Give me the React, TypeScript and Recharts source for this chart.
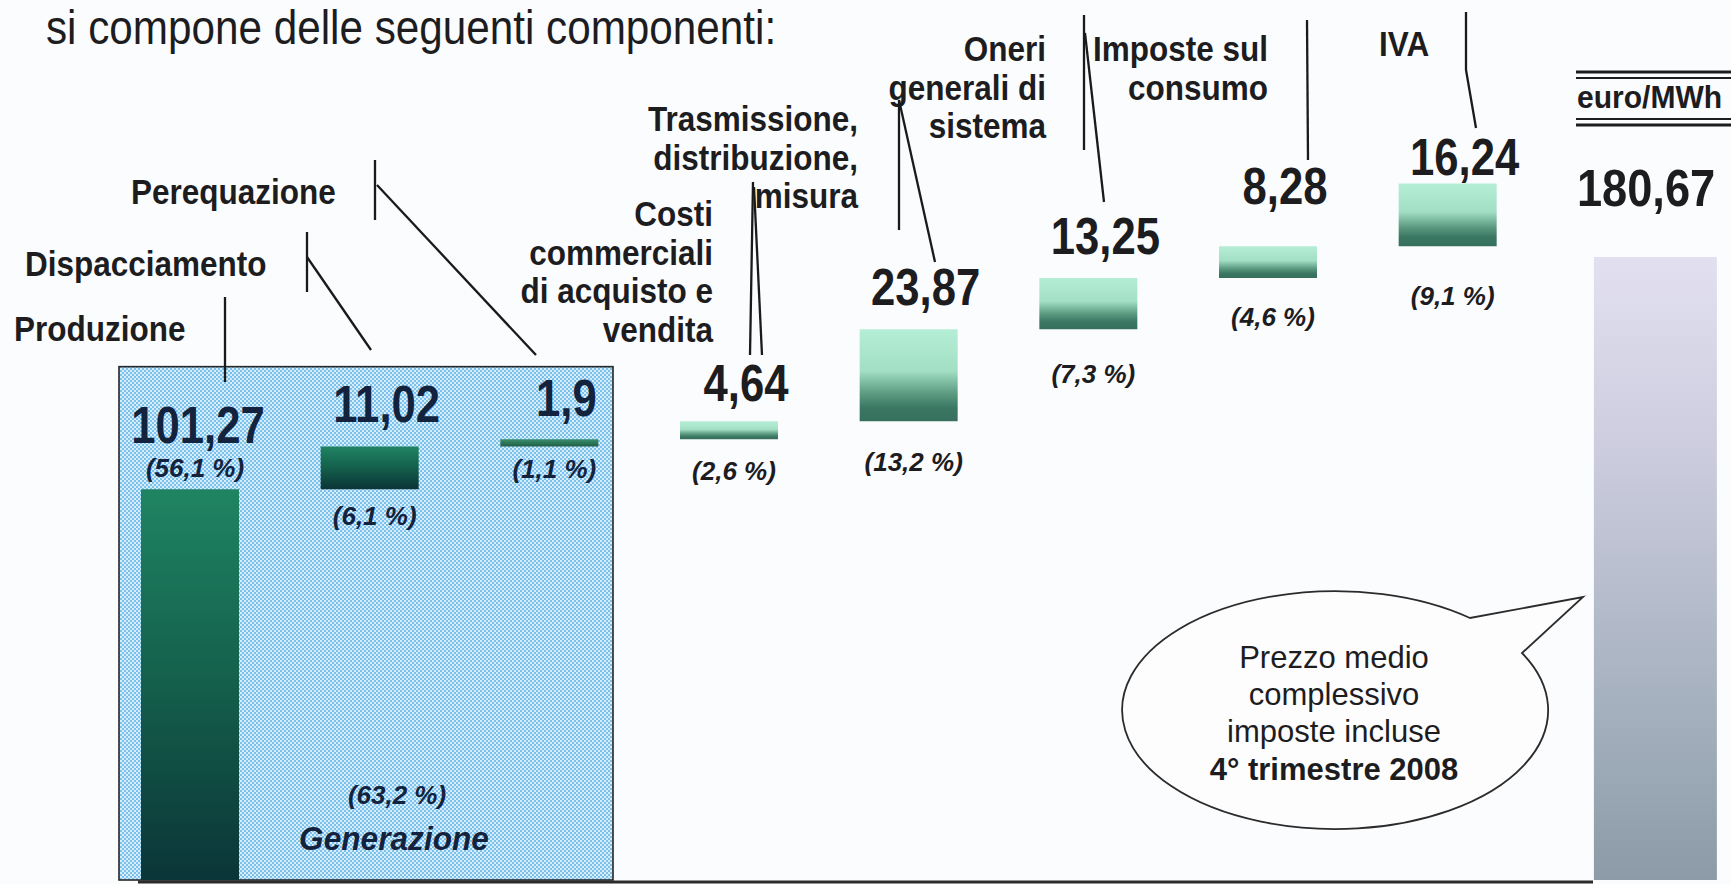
import React from "react";
import { BarChart, Bar, XAxis, YAxis, Cell, LabelList, ReferenceArea, ReferenceLine } from "recharts";

// componenti del prezzo, euro/MWh (4° trimestre 2008)
const CATEGORIES = [
    "Produzione",
    "Dispacciamento",
    "Perequazione",
    "Costi commerciali di acquisto e vendita",
    "Trasmissione, distribuzione, misura",
    "Oneri generali di sistema",
    "Imposte sul consumo",
    "IVA",
    "Totale",
];
const VALUES = [101.27, 11.02, 1.9, 4.64, 23.87, 13.25, 8.28, 16.24];
const SHARES = [56.1, 6.1, 1.1, 2.6, 13.2, 7.3, 4.6, 9.1];
const TOTAL = 180.67;
const GENERATION_SHARE = 63.2;
const UNIT = "euro/MWh";
const TITLE = "si compone delle seguenti componenti:";
const NOTE = ["Prezzo medio", "complessivo", "imposte incluse"];
const NOTE_BOLD = "4° trimestre 2008";

const INK = "#1d1d1f";
const NAVY = "#14233d";
const FONT = "'Liberation Sans', Arial, Helvetica, sans-serif";

// distanza delle etichette dalla barra (la slide non le allinea tutte uguali)
const VALUE_LIFT = [46, 25, 23, 20, 24, 24, 42, 8];
const SHARE_GAP = [-12, 36, 31, 41, 50, 54, 48, 59];

let running = 0;
const data = CATEGORIES.map((name, i) => {
    if (i < VALUES.length) {
        const row = { name, base: running, value: VALUES[i] };
        running += VALUES[i];
        return row;
    }
    return { name, total: TOTAL };
});

const fmt = (v: number) => String(v).replace(".", ",");

function Txt({ x, y, size, sx = 1, bold = false, italic = false, anchor = "start", fill = INK, children }: any) {
    return (
        <text
            transform={`translate(${x} ${y}) scale(${sx} 1)`}
            fontFamily={FONT}
            fontSize={size}
            fontWeight={bold ? 700 : 400}
            fontStyle={italic ? "italic" : "normal"}
            textAnchor={anchor}
            fill={fill}
        >
            {children}
        </text>
    );
}

// etichette delle voci (a capo come nella slide) e linee di richiamo
const LABELS = [
    { lines: ["Produzione"], x: 14, y: 341, anchor: "start" },
    { lines: ["Dispacciamento"], x: 25, y: 276, anchor: "start" },
    { lines: ["Perequazione"], x: 131, y: 204, anchor: "start" },
    { lines: ["Costi", "commerciali", "di acquisto e", "vendita"], x: 713, y: 226, anchor: "end" },
    { lines: ["Trasmissione,", "distribuzione,", "misura"], x: 858, y: 131, anchor: "end" },
    { lines: ["Oneri", "generali di", "sistema"], x: 1046, y: 61, anchor: "end" },
    { lines: ["Imposte sul", "consumo"], x: 1268, y: 61, anchor: "end" },
    { lines: ["IVA"], x: 1379, y: 56, anchor: "start" },
];
const LEADERS = [
    [[225, 297], [225, 382]],
    [[307, 232], [307, 292]],
    [[307, 257], [371, 350]],
    [[375, 160], [375, 220]],
    [[377, 185], [536, 355]],
    [[753, 182], [750, 355]],
    [[754, 187], [762, 355]],
    [[899, 100], [899, 230]],
    [[899, 100], [935, 262]],
    [[1084, 15], [1084, 150]],
    [[1085, 33], [1104, 202]],
    [[1307, 20], [1308, 160]],
    [[1466, 12], [1466, 70], [1476, 128]],
];

const renderStepLabels = (p: any) => {
    const i = p.index;
    if (i == null || i >= VALUES.length) return null;
    const vb = p.viewBox ?? p;
    const top = Math.min(vb.y, vb.y + vb.height);
    const bottom = Math.max(vb.y, vb.y + vb.height);
    const cx = vb.x + vb.width / 2;
    const inBox = i < 3;
    const fromGround = i === 0;
    const color = inBox ? NAVY : INK;
    return (
        <g key={`l${i}`}>
            <Txt x={cx + (fromGround ? 8 : 17)} y={top - VALUE_LIFT[i]} size={52} sx={0.84} bold anchor="middle" fill={color}>
                {fmt(VALUES[i])}
            </Txt>
            <Txt x={cx + 5} y={fromGround ? top + SHARE_GAP[i] : bottom + SHARE_GAP[i]} size={26} bold italic anchor="middle" fill={color}>
                {`(${fmt(SHARES[i])} %)`}
            </Txt>
        </g>
    );
};

const renderTotalLabel = (p: any) => {
    if (p.value == null) return null;
    const vb = p.viewBox ?? p;
    if (!vb || vb.x == null) return null;
    const top = Math.min(vb.y, vb.y + vb.height);
    return (
        <Txt key="tot" x={vb.x - 17} y={top - 51} size={52} sx={0.87} bold>
            {fmt(TOTAL)}
        </Txt>
    );
};

const GenerationBox = (p: any) => {
    const x = p.x + 19;
    const w = p.width - 45;
    const bottom = p.y + p.height;
    return (
        <g>
            <rect x={x} y={p.y} width={w} height={p.height} fill="url(#boxDots)" stroke="#262626" strokeWidth={1.6} />
            <Txt x={x + 278} y={bottom - 76} size={26} bold italic anchor="middle" fill={NAVY}>
                {`(${fmt(GENERATION_SHARE)} %)`}
            </Txt>
            <Txt x={x + 275} y={bottom - 30} size={34} sx={0.93} bold italic anchor="middle" fill={NAVY}>
                Generazione
            </Txt>
        </g>
    );
};

export default function App() {
    return (
        <div style={{ position: "relative", width: 1731, height: 884, overflow: "hidden", background: "#fbfcfe" }}>
            <style>{"body{margin:0}"}</style>
            <BarChart width={1731} height={884} data={data} margin={{ top: 0, right: 14, left: 100, bottom: 4 }}>
                <defs>
                    <pattern id="boxDots" width="4" height="4" patternUnits="userSpaceOnUse">
                        <rect width="4" height="4" fill="#7cc1ec" />
                        <rect width="2" height="2" fill="#d6edfb" />
                        <rect x="2" y="2" width="2" height="2" fill="#d6edfb" />
                    </pattern>
                    <linearGradient id="gDeep" x1="0" y1="0" x2="0" y2="1">
                        <stop offset="0" stopColor="#1f8462" />
                        <stop offset="0.5" stopColor="#145f4b" />
                        <stop offset="1" stopColor="#0b3538" />
                    </linearGradient>
                    <linearGradient id="gThin" x1="0" y1="0" x2="0" y2="1">
                        <stop offset="0" stopColor="#3b8d6a" />
                        <stop offset="1" stopColor="#1f5e48" />
                    </linearGradient>
                    <linearGradient id="gMint" x1="0" y1="0" x2="0" y2="1">
                        <stop offset="0" stopColor="#b5eed6" />
                        <stop offset="0.45" stopColor="#a2dfc5" />
                        <stop offset="0.7" stopColor="#5c9a81" />
                        <stop offset="0.86" stopColor="#3a7662" />
                        <stop offset="1" stopColor="#36705c" />
                    </linearGradient>
                    <linearGradient id="gSteel" x1="0" y1="0" x2="0" y2="1">
                        <stop offset="0" stopColor="#e2e0f0" />
                        <stop offset="0.3" stopColor="#cdcddf" />
                        <stop offset="0.7" stopColor="#a7b2c0" />
                        <stop offset="1" stopColor="#8c9ba7" />
                    </linearGradient>
                </defs>
                <XAxis dataKey="name" hide />
                <XAxis xAxisId="tot" dataKey="name" hide padding={{ left: 500, right: 0 }} />
                <YAxis hide domain={[0, 228]} allowDataOverflow />
                <YAxis yAxisId="tot" hide domain={[0, 255.2]} allowDataOverflow />
                <ReferenceArea x1="Produzione" x2="Perequazione" y1={0} y2={133} shape={GenerationBox} />
                <ReferenceLine
                    y={0}
                    shape={(p: any) => <line x1={p.x1 + 38} y1={p.y1 + 2} x2={p.x2 - 124} y2={p.y2 + 2} stroke="#2b2b2b" strokeWidth={3} />}
                />
                <Bar dataKey="base" stackId="w" fill="transparent" barSize={98} isAnimationActive={false} />
                <Bar dataKey="value" stackId="w" barSize={98} isAnimationActive={false}>
                    {data.map((_, i) => (
                        <Cell key={i} fill={i < 2 ? "url(#gDeep)" : i === 2 ? "url(#gThin)" : "url(#gMint)"} />
                    ))}
                    <LabelList dataKey="value" content={renderStepLabels} />
                </Bar>
                <Bar dataKey="total" xAxisId="tot" yAxisId="tot" fill="url(#gSteel)" barSize={123} isAnimationActive={false}>
                    <LabelList dataKey="total" content={renderTotalLabel} />
                </Bar>
            </BarChart>
            <svg width={1731} height={884} style={{ position: "absolute", left: 0, top: 0, pointerEvents: "none" }}>
                <Txt x={46} y={44} size={48} sx={0.88}>{TITLE}</Txt>
                {LABELS.map((l, i) =>
                    l.lines.map((line, j) => (
                        <Txt key={`${i}-${j}`} x={l.x} y={l.y + j * 38.5} size={35} sx={0.9} bold anchor={l.anchor}>
                            {line}
                        </Txt>
                    ))
                )}
                {LEADERS.map((pts, i) => (
                    <polyline key={i} points={pts.map((p) => p.join(",")).join(" ")} fill="none" stroke="#1a1a1a" strokeWidth={2.3} />
                ))}
                <line x1={1576} y1={72} x2={1731} y2={72} stroke={INK} strokeWidth={3} />
                <line x1={1576} y1={78} x2={1731} y2={78} stroke={INK} strokeWidth={2} />
                <line x1={1576} y1={119} x2={1731} y2={119} stroke={INK} strokeWidth={2} />
                <line x1={1576} y1={125} x2={1731} y2={125} stroke={INK} strokeWidth={3} />
                <Txt x={1577} y={108} size={31} sx={0.97} bold>{UNIT}</Txt>
                <path d="M 1522 653 A 213 119 0 1 1 1470 618 L 1583 597 Z" fill="#fdfdfe" stroke="#2b2b2b" strokeWidth={1.8} />
                {NOTE.map((t, i) => (
                    <Txt key={t} x={1334} y={668 + i * 37} size={32} sx={0.97} anchor="middle">{t}</Txt>
                ))}
                <Txt x={1334} y={780} size={32} sx={0.97} bold anchor="middle">{NOTE_BOLD}</Txt>
            </svg>
        </div>
    );
}
